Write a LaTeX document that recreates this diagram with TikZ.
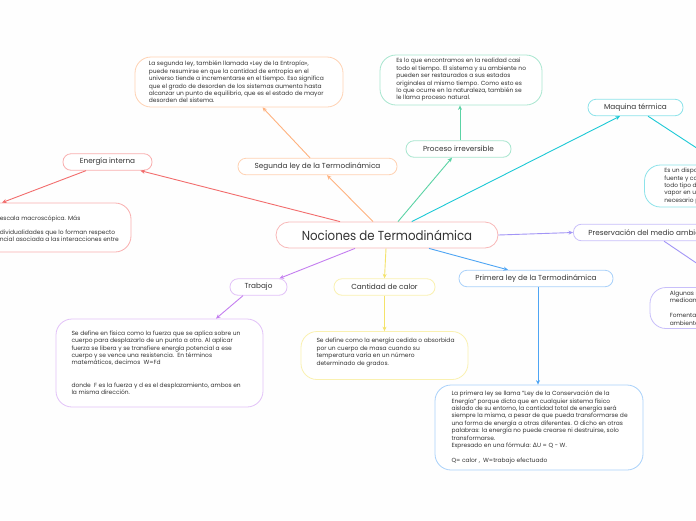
\documentclass[tikz,border=0pt]{standalone}
\usepackage{fontspec}
\setmainfont{Poppins}
\newfontfamily\cenfont{Poppins}[FakeStretch=0.9]
\newfontfamily\dvs{DejaVu Sans}
\usetikzlibrary{arrows.meta,calc}
\definecolor{bgc}{HTML}{FEFEFE}
\definecolor{txt}{HTML}{333333}
\definecolor{cRed}{HTML}{F26D6D}
\definecolor{bRed}{HTML}{F9AFAF}
\definecolor{bCen}{HTML}{F8B8B8}
\definecolor{cOr}{HTML}{FFB27F}
\definecolor{bOr}{HTML}{FFD2B3}
\definecolor{cGr}{HTML}{5BD3A5}
\definecolor{bGr}{HTML}{A8E6CF}
\definecolor{cCy}{HTML}{1CC9D6}
\definecolor{bCy}{HTML}{8DE3EA}
\definecolor{cPb}{HTML}{A295F6}
\definecolor{bPb}{HTML}{C8BFFA}
\definecolor{cBl}{HTML}{4EA5F4}
\definecolor{bBl}{HTML}{A9D1FA}
\definecolor{cYe}{HTML}{F4E36B}
\definecolor{bYe}{HTML}{FAF1B0}
\definecolor{cPu}{HTML}{C47EF0}
\definecolor{bPu}{HTML}{E2C2F8}
\newcommand\smalltxt{\fontsize{5.95pt}{7.4pt}\selectfont}
\newcommand\lbltxt{\fontsize{7.3pt}{9pt}\selectfont}
\newcommand\centraltxt{\cenfont\fontsize{13.1pt}{16pt}\selectfont}
\tikzset{
  lbl/.style={draw, fill=white, rounded corners=8pt, inner sep=0pt, font=\lbltxt, text=txt, line width=0.8pt, minimum height=16.5pt},
  tbox/.style={draw, fill=white, rounded corners=16pt, inner sep=0pt, line width=0.8pt},
  ttext/.style={anchor=west, inner sep=0pt, align=left, font=\smalltxt, text=txt},
  edge/.style={line width=0.9pt, -{Stealth[length=4.5pt,width=4pt]}}
}
\begin{document}
\begin{tikzpicture}[x=1pt,y=-1pt]
\useasboundingbox (0,0) rectangle (696,520);
\fill[bgc] (0,0) rectangle (696,520);
\begin{scope}
\clip (0,0) rectangle (696,520);
% main nodes
\node[lbl, draw=bCen, minimum width=222pt, minimum height=26pt, rounded corners=13pt, font=\centraltxt] (c) at (387,235) {Nociones de Termodinámica};
\node[lbl, draw=bRed, minimum width=89pt] (ei) at (107.5,162) {Energía interna};
\node[lbl, draw=bOr, minimum width=159pt] (sg) at (317.5,166.5) {Segunda ley de la Termodinámica};
\node[lbl, draw=bGr, minimum width=105pt] (pi) at (458.5,149) {Proceso irreversible};
\node[lbl, draw=bCy, minimum width=95pt] (mt) at (635.5,107.5) {Maquina térmica};
\node[lbl, draw=bPb, anchor=west, inner xsep=15pt] (pm) at (573,232.5) {Preservación del medio ambiente};
\node[lbl, draw=bBl, minimum width=154pt] (pl) at (536,278.5) {Primera ley de la Termodinámica};
\node[lbl, draw=bPu, minimum width=57pt] (tr) at (258.5,287) {Trabajo};
\node[lbl, draw=bYe, minimum width=101pt] (cc) at (384.5,287) {Cantidad de calor};
% text boxes
\node[tbox, draw=bOr, minimum width=208pt, minimum height=50pt] (sgt) at (239,82) {};
\node[ttext] (sgx) at ($(sgt.west)+(14,0)$) {La segunda ley, también llamada «Ley de la Entropía»,\\ puede resumirse en que la cantidad de entropía en el\\ universo tiende a incrementarse en el tiempo. Eso significa\\ que el grado de desorden de los sistemas aumenta hasta\\ alcanzar un punto de equilibrio, que es el estado de mayor\\ desorden del sistema.};
\node[tbox, draw=bGr, minimum width=162pt, minimum height=50pt] (pit) at (461,80) {};
\node[ttext] (pix) at ($(pit.west)+(16.5,0)$) {Es lo que encontramos en la realidad casi\\ todo el tiempo. El sistema y su ambiente no\\ pueden ser restaurados a sus estados\\ originales al mismo tiempo. Como esto es\\ lo que ocurre en la naturaleza, también se\\ le llama proceso natural.};
\node[tbox, draw=bRed, minimum width=147pt, minimum height=49pt] (eit) at (57.5,227.5) {};
\node[ttext] (eix) at ($(eit.west)+(16,1)$) {escala macroscópica. Más\\[6.6pt] dividualidades que lo forman respecto\\ ncial asociada a las interacciones entre};
\node[tbox, draw=bCy, minimum width=155pt, minimum height=42pt] (mtt) at (722,186) {};
\node[ttext] (mtx) at ($(mtt.west)+(20,0)$) {Es un dispositivo\\ fuente y convierte\\ todo tipo de\\ vapor en un\\ necesario para};
\node[tbox, draw=bPb, minimum width=164pt, minimum height=41pt] (pmt) at (732,308) {};
\node[ttext] (pmx) at ($(pmt.west)+(20,0)$) {Algunas medidas\\ medioambiente\\[7.4pt] Fomentar\\ ambiente};
\node[tbox, draw=bPu, minimum width=207pt, minimum height=88pt] (trt) at (159.5,363) {};
\node[ttext] (trx) at ($(trt.west)+(15.7,-0.5)$) {Se define en física como la fuerza que se aplica sobre un\\ cuerpo para desplazarlo de un punto a otro. Al aplicar\\ fuerza se libera y se transfiere energía potencial a ese\\ cuerpo y se vence una resistencia.\ \ En términos\\ matemáticos, decimos\ \ W=Fd\\[14.8pt] donde\ \ F es la fuerza y d es el desplazamiento, ambos en\\ la misma dirección.};
\node[tbox, draw=bYe, minimum width=167pt, minimum height=48pt] (cct) at (384.5,355.5) {};
\node[ttext] (ccx) at ($(cct.west)+(15.7,-3)$) {Se define como la energía cedida o absorbida\\ por un cuerpo de masa cuando su\\ temperatura varía en un número\\ determinado de grados.};
\node[tbox, draw=bBl, minimum width=208pt, minimum height=85pt] (plt) at (539,427.5) {};
\node[ttext] (plx) at ($(plt.west)+(16.7,0)$) {La primera ley se llama "Ley de la Conservación de la\\ Energía" porque dicta que en cualquier sistema físico\\ aislado de su entorno, la cantidad total de energía será\\ siempre la misma, a pesar de que pueda transformarse de\\ una forma de energía a otras diferentes. O dicho en otras\\ palabras: la energía no puede crearse ni destruirse, solo\\ transformarse.\\ Expresado en una fórmula: {\dvs Δ}U = Q - W.\\[7.4pt] Q= calor ,\ \ W=trabajo efectuado};
% edges
\draw[edge, cRed] ($(c.north)+(-47,0)$) -- ($(ei.south east)+(-12,0)$);
\draw[edge, cRed] ($(ei.south)+(-21.5,0)$) -- ($(eit.north)+(-55.5,0)$);
\draw[edge, cOr] ($(c.north)+(-14,0)$) -- ($(sg.south)+(9.5,0)$);
\draw[edge, cOr] ($(sg.north)+(-7.5,0)$) -- ($(sgt.south)+(23.5,0)$);
\draw[edge, cGr] ($(c.north)+(11,0)$) -- ($(pi.south)+(-6.5,0)$);
\draw[edge, cGr] ($(pi.north)+(1.5,0)$) -- ($(pit.south)+(-1,0)$);
\draw[edge, cCy] ($(c.north)+(24.7,0)$) -- ($(mt.south)+(-15.5,0)$);
\draw[edge, cCy] ($(mt.south)+(12.5,0)$) -- (mtt.north);
\draw[edge, cPb] (c.east) -- (pm.west);
\draw[edge, cPb] ($(pm.south west)+(91,0)$) -- (pmt.north);
\draw[edge, cBl] ($(c.south)+(42,0)$) -- ($(pl.north)+(-28,0)$);
\draw[edge, cBl] ($(pl.south)+(2,0)$) -- ($(plt.north)+(-1,0)$);
\draw[edge, cYe] ($(c.south)+(-1,0)$) -- (cc.north);
\draw[edge, cYe] (cc.south) -- (cct.north);
\draw[edge, cPu] ($(c.south)+(-32,0)$) -- ($(tr.north)+(21,0)$);
\draw[edge, cPu] ($(tr.south)+(-15.5,0)$) -- ($(trt.north)+(56.5,0)$);
\end{scope}
\end{tikzpicture}
\end{document}
